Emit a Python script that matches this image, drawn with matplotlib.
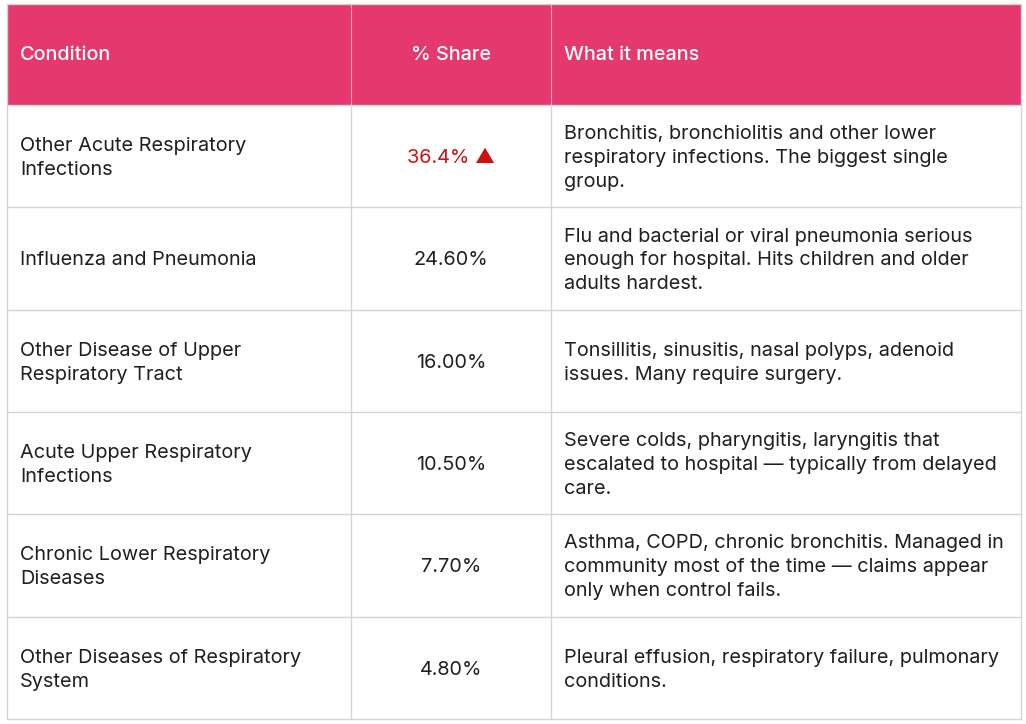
import matplotlib
matplotlib.use('Agg')
import matplotlib.pyplot as plt
from matplotlib.patches import Rectangle

plt.rcParams['font.family'] = ['Inter', 'DejaVu Sans']

headers = ['Condition', '% Share', 'What it means']
conditions = ['Other Acute Respiratory\nInfections',
              'Influenza and Pneumonia',
              'Other Disease of Upper\nRespiratory Tract',
              'Acute Upper Respiratory\nInfections',
              'Chronic Lower Respiratory\nDiseases',
              'Other Diseases of Respiratory\nSystem']
shares = ['36.4%', '24.60%', '16.00%', '10.50%', '7.70%', '4.80%']
highlight = [True, False, False, False, False, False]
meanings = ['Bronchitis, bronchiolitis and other lower\nrespiratory infections. The biggest single\ngroup.',
            'Flu and bacterial or viral pneumonia serious\nenough for hospital. Hits children and older\nadults hardest.',
            'Tonsillitis, sinusitis, nasal polyps, adenoid\nissues. Many require surgery.',
            'Severe colds, pharyngitis, laryngitis that\nescalated to hospital \u2014 typically from delayed\ncare.',
            'Asthma, COPD, chronic bronchitis. Managed in\ncommunity most of the time \u2014 claims appear\nonly when control fails.',
            'Pleural effusion, respiratory failure, pulmonary\nconditions.']

W, H = 1026, 724
fig = plt.figure(figsize=(W/100, H/100), dpi=100)
ax = fig.add_axes([0, 0, 1, 1])
ax.set_xlim(0, W)
ax.set_ylim(H, 0)
ax.axis('off')

pink = '#E5386F'
grid = '#D4D4D8'
txt = '#1f1f1f'
fs = 14.3

left, right = 7, 1021
col_x = [left, 351, 551, right]
top, head_bot = 4, 105
row_h = 102.3
row_y = [head_bot + i*row_h for i in range(len(conditions)+1)]

# header
ax.add_patch(Rectangle((left, top), right-left, head_bot-top, color=pink, lw=0))
for x in col_x[1:-1]:
    ax.plot([x, x], [top, head_bot], color='#F3A7BF', lw=0.8)
hy = (top+head_bot)/2 + 1
ax.text(20, hy, headers[0], color='white', fontsize=fs, va='center', ha='left', fontweight='medium')
ax.text((col_x[1]+col_x[2])/2, hy, headers[1], color='white', fontsize=fs, va='center', ha='center', fontweight='medium')
ax.text(564, hy, headers[2], color='white', fontsize=fs, va='center', ha='left', fontweight='medium')

# body grid
for y in row_y:
    ax.plot([left, right], [y, y], color=grid, lw=1)
for x in col_x:
    ax.plot([x, x], [head_bot, row_y[-1]], color=grid, lw=1)
ax.plot([left, right], [top, top], color=grid, lw=1)
ax.plot([left, left], [top, head_bot], color=grid, lw=1)
ax.plot([right, right], [top, head_bot], color=grid, lw=1)

for i in range(len(conditions)):
    yc = (row_y[i] + row_y[i+1]) / 2 + 2
    ax.text(20, yc, conditions[i], color=txt, fontsize=fs, va='center', ha='left', linespacing=1.42)
    cx = (col_x[1]+col_x[2])/2
    if highlight[i]:
        ax.text(cx, yc, shares[i] + ' \u25B2', color='#CC1111', fontsize=fs, va='center', ha='center')
    else:
        ax.text(cx, yc, shares[i], color=txt, fontsize=fs, va='center', ha='center')
    ax.text(564, yc, meanings[i], color=txt, fontsize=fs, va='center', ha='left', linespacing=1.42)

fig.savefig('out.png', dpi=100, facecolor='white')
